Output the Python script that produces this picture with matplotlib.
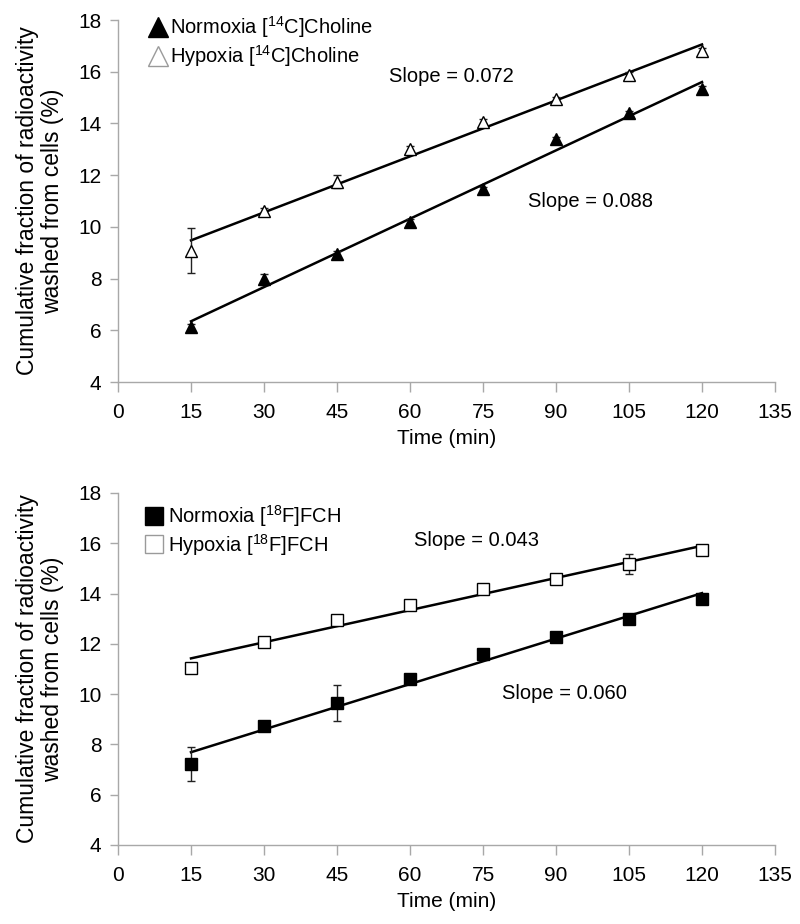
import numpy as np
import matplotlib
matplotlib.use("Agg")
import matplotlib.pyplot as plt
from matplotlib.lines import Line2D

plt.rcParams['font.family'] = ['Liberation Sans', 'DejaVu Sans']
plt.rcParams['mathtext.default'] = 'regular'

# ---- data ----
time_min = [15, 30, 45, 60, 75, 90, 105, 120]

# Top panel: [14C]Choline
norm_c14 = [6.13, 7.97, 8.95, 10.20, 11.45, 13.38, 14.39, 15.33]
norm_c14_err = [0.10, 0.20, 0.10, 0.10, 0.10, 0.10, 0.10, 0.10]
hyp_c14 = [9.08, 10.62, 11.75, 13.00, 14.07, 14.94, 15.87, 16.80]
hyp_c14_err = [0.87, 0.10, 0.25, 0.12, 0.10, 0.10, 0.10, 0.10]

# Bottom panel: [18F]FCH
norm_fch = [7.22, 8.75, 9.66, 10.59, 11.58, 12.26, 12.98, 13.79]
norm_fch_err = [0.67, 0.10, 0.72, 0.10, 0.10, 0.10, 0.10, 0.12]
hyp_fch = [11.05, 12.09, 12.94, 13.55, 14.17, 14.59, 15.17, 15.73]
hyp_fch_err = [0.10, 0.15, 0.10, 0.10, 0.10, 0.10, 0.40, 0.10]

x_ticks = [0, 15, 30, 45, 60, 75, 90, 105, 120, 135]
y_ticks = [4, 6, 8, 10, 12, 14, 16, 18]

labels_top = ["Normoxia [$^{14}$C]Choline", "Hypoxia [$^{14}$C]Choline"]
labels_bot = ["Normoxia [$^{18}$F]FCH", "Hypoxia [$^{18}$F]FCH"]
slope_top = ["Slope = 0.072", "Slope = 0.088"]
slope_bot = ["Slope = 0.043", "Slope = 0.060"]

ylabel = "Cumulative fraction of radioactivity\nwashed from cells (%)"
xlabel = "Time (min)"

FS_TICK = 15
FS_TEXT = 14.5
FS_YLAB = 16.5
AX_GRAY = '#A8A8A8'

fig = plt.figure(figsize=(8.0, 9.24), dpi=100)
ax1 = fig.add_axes([118/800, 1-382/924, (775-118)/800, (382-20)/924])
ax2 = fig.add_axes([118/800, 1-845/924, (775-118)/800, (845-493)/924])


def draw_panel(ax, nm, nm_err, hy, hy_err, marker, labels, slopes, slope_pos, leg_anchor, pad, lms):
    x = np.array(time_min, dtype=float)
    ax.errorbar(x, nm, yerr=nm_err, fmt=marker, color='black', mfc='black',
                mec='black', ms=8, ecolor='#222222', elinewidth=1.0, capsize=3,
                capthick=1.0, linestyle='none', zorder=3)
    ax.errorbar(x, hy, yerr=hy_err, fmt=marker, color='black', mfc='white',
                mec='black', mew=1.0, ms=8, ecolor='#222222', elinewidth=1.0,
                capsize=3, capthick=1.0, linestyle='none', zorder=3)
    for series in (nm, hy):
        k, b = np.polyfit(x, series, 1)
        xx = np.array([x[0], x[-1]])
        ax.plot(xx, k * xx + b, color='black', lw=1.8, zorder=2)

    ax.set_xlim(0, 135)
    ax.set_ylim(4, 18)
    ax.set_xticks(x_ticks)
    ax.set_yticks(y_ticks)
    ax.tick_params(axis='both', labelsize=FS_TICK, color=AX_GRAY, direction='out')
    ax.tick_params(axis='x', length=7, width=1, pad=8)
    ax.tick_params(axis='y', length=6, width=1, pad=6)
    for s in ('top', 'right'):
        ax.spines[s].set_visible(False)
    for s in ('left', 'bottom'):
        ax.spines[s].set_color(AX_GRAY)
        ax.spines[s].set_linewidth(1.0)
    ax.set_xlabel(xlabel, fontsize=FS_TICK, labelpad=5)
    ax.set_ylabel(ylabel, fontsize=FS_YLAB, labelpad=10, linespacing=1.1)

    for txt, (tx, ty) in zip(slopes, slope_pos):
        ax.text(tx, ty, txt, fontsize=FS_TEXT, ha='center', va='center')

    h1 = Line2D([], [], marker=marker, linestyle='none', mfc='black', mec='black', ms=lms)
    h2 = Line2D([], [], marker=marker, linestyle='none', mfc='white', mec='#9a9a9a',
                mew=1.0, ms=lms)
    ax.legend(handles=[h1, h2], labels=labels, loc='upper left', bbox_to_anchor=leg_anchor,
              frameon=False, fontsize=FS_TEXT, handlelength=1.0, handletextpad=pad,
              labelspacing=0.15, borderpad=0, borderaxespad=0)


draw_panel(ax1, norm_c14, norm_c14_err, hyp_c14, hyp_c14_err, '^', labels_top,
           slope_top, [(68.4, 15.83), (97.0, 10.97)], (0.046, 1.015), 0.1, 14)
draw_panel(ax2, norm_fch, norm_fch_err, hyp_fch, hyp_fch_err, 's', labels_bot,
           slope_bot, [(73.6, 16.13), (91.7, 10.03)], (0.039, 0.972), 0.2, 12.5)

fig.savefig("out.png", dpi=100)
